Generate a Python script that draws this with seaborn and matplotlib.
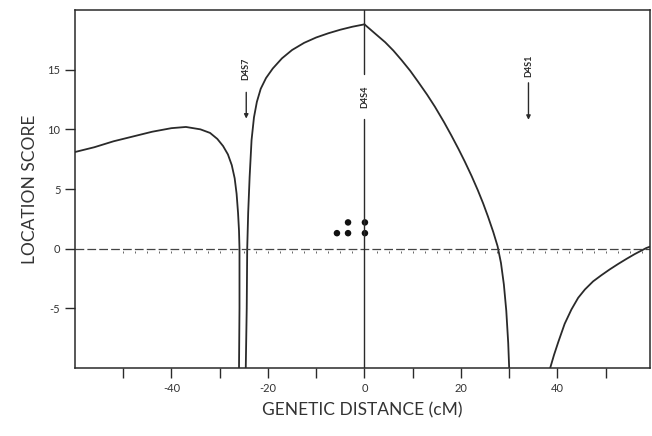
import matplotlib
matplotlib.use("Agg")
import matplotlib.pyplot as plt
import seaborn as sns
import pandas as pd
import numpy as np

# ---- data ----
left_x = [-60, -56, -52, -48, -44, -40, -37, -34, -32, -30.5, -29.3, -28.3, -27.5, -26.9, -26.5, -26.2, -26.0, -25.9, -25.9, -26.0]
left_y = [8.1, 8.5, 9.0, 9.4, 9.8, 10.1, 10.2, 10.0, 9.7, 9.2, 8.6, 7.9, 7.0, 5.9, 4.6, 3.0, 1.5, 0, -5, -10]

mid_x = [-24.6, -24.4, -24.3, -24.1, -23.8, -23.4, -22.9, -22.3, -21.5, -20.4, -19.0, -17.1, -15.0, -12.5, -10, -7.5, -5, -2.5, 0]
mid_y = [-10, -5, 0, 3, 6, 9.1, 11.0, 12.3, 13.4, 14.3, 15.1, 15.95, 16.65, 17.25, 17.7, 18.05, 18.35, 18.6, 18.8]

desc_x = [0, 2, 4.3, 6, 7.7, 9.5, 11.1, 13, 14.6, 16.5, 18.0, 19.5, 20.8, 22.2, 23.5, 24.6, 25.6, 26.7, 27.6, 28.3, 28.9, 29.4, 29.8, 30.0]
desc_y = [18.8, 18.1, 17.3, 16.6, 15.8, 14.9, 14.0, 12.9, 11.9, 10.6, 9.5, 8.35, 7.3, 6.1, 4.9, 3.8, 2.7, 1.4, 0.2, -1.2, -3.0, -5.2, -7.9, -10]

rise_x = [38.5, 39.3, 40.2, 41.5, 42.9, 44.3, 45.7, 47.4, 49.1, 50.8, 52.6, 54.3, 56, 58.4, 59.2]
rise_y = [-10, -8.9, -7.8, -6.3, -5.1, -4.12, -3.42, -2.74, -2.23, -1.75, -1.28, -0.86, -0.46, 0.05, 0.17]

dots_x = [-5.7, -3.4, 0.1, -3.4, 0.1]
dots_y = [1.3, 1.3, 1.3, 2.2, 2.2]

markers = ["D4S7", "D4S4", "D4S1"]
marker_pos = [-24.5, 0, 34]

x_ticks = [-40, -20, 0, 20, 40]
x_minor = [-50, -30, -10, 10, 30, 50]
y_ticks = [-5, 0, 5, 10, 15]

# ---- build tables ----
segs = []
for name, xs, ys in [("a", left_x, left_y), ("b", mid_x, mid_y), ("c", desc_x, desc_y), ("d", rise_x, rise_y)]:
    segs.append(pd.DataFrame({"x": xs, "y": ys, "seg": name}))
curves = pd.concat(segs, ignore_index=True)
dots = pd.DataFrame({"x": dots_x, "y": dots_y})

sns.set_style("ticks")
plt.rcParams["font.family"] = ["Lato", "DejaVu Sans"]

fig = plt.figure(figsize=(6.52, 4.36), dpi=100)
ax = fig.add_axes([0.115, 0.156, 0.882, 0.821])

ink = "#2a2a2a"
sns.lineplot(data=curves, x="x", y="y", units="seg", estimator=None, sort=False,
             color=ink, lw=1.3, ax=ax)
sns.scatterplot(data=dots, x="x", y="y", color="#111111", s=22, marker="o",
                edgecolor="none", ax=ax)

# baseline at zero (dashed, with small tick dots)
ax.axhline(0, color="#444444", lw=0.9, ls=(0, (7, 2.5)))
tick_pos = np.arange(-50, 60, 2.5)
ax.plot(tick_pos, np.full(len(tick_pos), -0.3), ls="none", marker="|", ms=1.8,
        mew=0.7, color="#666666")

# D4S4 vertical line at 0 with a gap for the label
ax.plot([marker_pos[1], marker_pos[1]], [-10, 10.9], color=ink, lw=1.0)
ax.plot([marker_pos[1], marker_pos[1]], [14.6, 20], color=ink, lw=1.0)
ax.text(marker_pos[1], 12.75, markers[1], rotation=90, ha="center", va="center",
        fontsize=6.5, color=ink, fontweight="bold")

for lab, xp, ytext, ytop, ybot in [(markers[0], marker_pos[0], 15.1, 13.1, 10.9),
                                   (markers[2], marker_pos[2], 15.3, 13.9, 10.8)]:
    ax.text(xp, ytext, lab, rotation=90, ha="center", va="center",
            fontsize=6.5, color=ink, fontweight="bold")
    ax.annotate("", xy=(xp, ybot), xytext=(xp, ytop),
                arrowprops=dict(arrowstyle="-|>", color=ink, lw=1.0,
                                mutation_scale=6, shrinkA=0, shrinkB=0))

ax.set_xlim(-60, 59.2)
ax.set_ylim(-10, 20)
ax.set_xticks(x_ticks)
ax.set_xticklabels([str(t) for t in x_ticks])
ax.set_xticks(x_minor, minor=True)
ax.set_yticks(y_ticks)
ax.set_yticklabels([str(t) for t in y_ticks])
ax.tick_params(axis="both", which="both", direction="out", length=7, width=1.0,
               color=ink, labelsize=8, labelcolor="#333333")
for s in ax.spines.values():
    s.set_visible(True)
    s.set_color(ink)
    s.set_linewidth(1.1)

ax.set_xlabel("GENETIC DISTANCE (cM)", fontsize=12.5, color="#333333", labelpad=6)
ax.set_ylabel("LOCATION SCORE", fontsize=12.5, color="#333333", labelpad=7)

fig.savefig("out.png", dpi=100, facecolor="white")
